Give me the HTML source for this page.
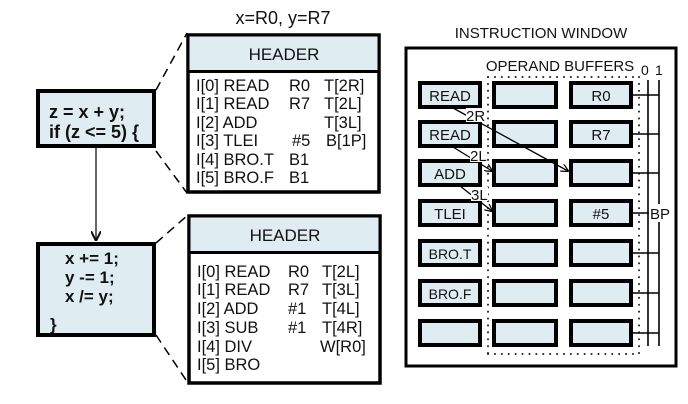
<!DOCTYPE html>
<html><head><meta charset="utf-8"><style>
body{margin:0;background:#fff;}
svg{display:block;font-family:"Liberation Sans",Arial,sans-serif;}
</style></head><body>
<svg width="688" height="404" viewBox="0 0 688 404" xmlns="http://www.w3.org/2000/svg">
<defs>
<marker id="ah" markerWidth="8" markerHeight="8" refX="7" refY="4" orient="auto" markerUnits="userSpaceOnUse">
<path d="M0,0 L8,4 L0,8" fill="none" stroke="#000" stroke-width="1.2"/></marker>
<marker id="ah2" markerWidth="10" markerHeight="10" refX="9" refY="5" orient="auto" markerUnits="userSpaceOnUse">
<path d="M0,0 L10,5 L0,10" fill="none" stroke="#111" stroke-width="2"/></marker>
</defs>
<!-- left code boxes -->
<rect x="38" y="91" width="116" height="55" fill="#dfecf2" stroke="#000" stroke-width="4"/>
<text font-weight="bold" font-size="18" fill="#111"><tspan x="49" y="118">z = x + y;</tspan><tspan x="49" y="138">if (z &lt;= 5) {</tspan></text>
<line x1="96" y1="148" x2="96" y2="240" stroke="#333" stroke-width="1.5" marker-end="url(#ah2)"/>
<rect x="38" y="244" width="116" height="91" fill="#dfecf2" stroke="#000" stroke-width="4"/>
<text font-weight="bold" font-size="17" fill="#111"><tspan x="65" y="264">x += 1;</tspan><tspan x="65" y="283">y -= 1;</tspan><tspan x="65" y="302">x /= y;</tspan><tspan x="50" y="330">}</tspan></text>
<!-- dashed connectors -->
<g stroke="#000" stroke-width="1.5" stroke-dasharray="9,6" fill="none">
<line x1="156" y1="90" x2="187" y2="33"/><line x1="156" y1="151" x2="187" y2="193"/>
<line x1="156" y1="243" x2="188" y2="215"/><line x1="156" y1="335" x2="188" y2="383"/>
</g>
<!-- header 1 -->
<text x="283" y="24" font-size="18" text-anchor="middle" fill="#111">x=R0, y=R7</text>
<rect x="188" y="35" width="191" height="157" fill="#fff" stroke="#000" stroke-width="3.5"/>
<rect x="189.5" y="36.5" width="188" height="35" fill="#dfecf2"/>
<line x1="188" y1="71.5" x2="379" y2="71.5" stroke="#000" stroke-width="3"/>
<text x="284" y="60" font-size="17" text-anchor="middle" fill="#111">HEADER</text>
<g font-size="16.5" fill="#111">
<text x="196" y="91">I[0] READ</text><text x="289" y="91">R0</text><text x="324" y="91">T[2R]</text>
<text x="196" y="109">I[1] READ</text><text x="289" y="109">R7</text><text x="324" y="109">T[2L]</text>
<text x="196" y="128">I[2] ADD</text><text x="324" y="128">T[3L]</text>
<text x="196" y="146">I[3] TLEI</text><text x="292" y="146">#5</text><text x="326" y="146">B[1P]</text>
<text x="196" y="165">I[4] BRO.T</text><text x="289" y="165">B1</text>
<text x="196" y="183">I[5] BRO.F</text><text x="289" y="183">B1</text>
</g>
<!-- header 2 -->
<rect x="189" y="216" width="191" height="167" fill="#fff" stroke="#000" stroke-width="3.5"/>
<rect x="190.5" y="217.5" width="188" height="35" fill="#dfecf2"/>
<line x1="189" y1="252.5" x2="380" y2="252.5" stroke="#000" stroke-width="3"/>
<text x="285" y="241" font-size="17" text-anchor="middle" fill="#111">HEADER</text>
<g font-size="16.5" fill="#111">
<text x="197" y="277">I[0] READ</text><text x="288" y="277">R0</text><text x="322" y="277">T[2L]</text>
<text x="197" y="295">I[1] READ</text><text x="288" y="295">R7</text><text x="322" y="295">T[3L]</text>
<text x="197" y="314">I[2] ADD</text><text x="288" y="314">#1</text><text x="322" y="314">T[4L]</text>
<text x="197" y="333">I[3] SUB</text><text x="288" y="333">#1</text><text x="322" y="333">T[4R]</text>
<text x="197" y="352">I[4] DIV</text><text x="320" y="352">W[R0]</text>
<text x="197" y="370">I[5] BRO</text>
</g>
<!-- instruction window -->
<text x="541" y="38" font-size="15" text-anchor="middle" fill="#111">INSTRUCTION WINDOW</text>
<rect x="406" y="48" width="270" height="318" fill="#fff" stroke="#000" stroke-width="3"/>
<text x="560" y="71" font-size="15" text-anchor="middle" fill="#111">OPERAND BUFFERS</text>
<text x="641" y="75" font-size="14" fill="#111">0</text><text x="655" y="75" font-size="14" fill="#111">1</text>
<g stroke="#222" stroke-width="2" stroke-dasharray="0.1,6.8" fill="none" stroke-linecap="round">
<line x1="488" y1="77" x2="637" y2="77"/><line x1="488" y1="77" x2="488" y2="354"/>
<line x1="639" y1="77" x2="639" y2="354"/><line x1="488" y1="354" x2="639" y2="354"/>
</g>
<g stroke="#000" stroke-width="1.6">
<line x1="648" y1="80" x2="648" y2="346"/><line x1="659" y1="80" x2="659" y2="346"/>
<line x1="632" y1="95" x2="659" y2="95"/><line x1="632" y1="134" x2="659" y2="134"/>
<line x1="632" y1="173" x2="659" y2="173"/><line x1="632" y1="213" x2="651" y2="213"/>
<line x1="632" y1="253" x2="659" y2="253"/><line x1="632" y1="293" x2="659" y2="293"/>
<line x1="632" y1="333" x2="659" y2="333"/>
</g>
<rect x="649" y="204" width="22" height="18" fill="#fff"/>
<text x="650" y="219" font-size="15" fill="#111">BP</text>
<g fill="#dfecf2" stroke="#000" stroke-width="4">
<rect x="420" y="83" width="60" height="24"/><rect x="494" y="83" width="62" height="24"/><rect x="571" y="83" width="60" height="24"/>
<rect x="420" y="122" width="60" height="24"/><rect x="494" y="122" width="62" height="24"/><rect x="571" y="122" width="60" height="24"/>
<rect x="420" y="161" width="60" height="24"/><rect x="494" y="161" width="62" height="24"/><rect x="571" y="161" width="60" height="24"/>
<rect x="420" y="201" width="60" height="24"/><rect x="494" y="201" width="62" height="24"/><rect x="571" y="201" width="60" height="24"/>
<rect x="420" y="241" width="60" height="24"/><rect x="494" y="241" width="62" height="24"/><rect x="571" y="241" width="60" height="24"/>
<rect x="420" y="281" width="60" height="24"/><rect x="494" y="281" width="62" height="24"/><rect x="571" y="281" width="60" height="24"/>
<rect x="420" y="321" width="60" height="24"/><rect x="494" y="321" width="62" height="24"/><rect x="571" y="321" width="60" height="24"/>
</g>
<g font-size="15" fill="#111" text-anchor="middle">
<text x="450" y="101">READ</text><text x="601" y="101">R0</text>
<text x="450" y="140">READ</text><text x="601" y="140">R7</text>
<text x="450" y="179">ADD</text>
<text x="450" y="219">TLEI</text><text x="601" y="219">#5</text>
<text x="450" y="259" font-size="14">BRO.T</text><text x="450" y="299" font-size="14">BRO.F</text>
</g>
<!-- arrows -->
<g stroke="#000" stroke-width="1.3" fill="none">
<line x1="453" y1="108" x2="568" y2="171" marker-end="url(#ah)"/>
<line x1="453" y1="147" x2="492" y2="171" marker-end="url(#ah)"/>
<line x1="460" y1="186" x2="492" y2="211" marker-end="url(#ah)"/>
</g>
<g font-size="15" fill="#111">
<rect x="466" y="108" width="19" height="14" fill="#fff"/><text x="466" y="121">2R</text>
<rect x="470" y="148" width="17" height="14" fill="#fff"/><text x="470" y="161">2L</text>
<rect x="471" y="187" width="17" height="14" fill="#fff"/><text x="471" y="200">3L</text>
</g>
</svg>
</body></html>
